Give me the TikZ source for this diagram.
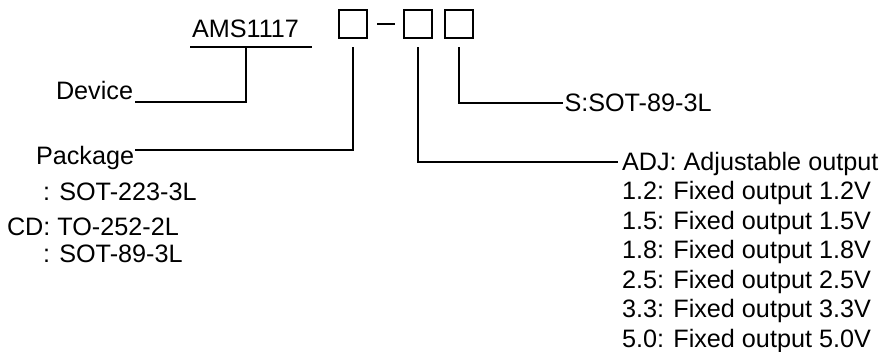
\documentclass[tikz,border=0pt]{standalone}
\usepackage{fontspec}
\setmainfont{Liberation Sans}
\begin{document}
\begin{tikzpicture}[x=1pt,y=-1pt,
  txt/.style={anchor=base west,inner sep=0pt,outer sep=0pt,font=\fontsize{25.2}{30}\selectfont},
  cbox/.style={draw,line width=1.3pt,minimum size=28pt,inner sep=0pt,outer sep=0pt},
  wire/.style={line width=1.3pt}]
\useasboundingbox (0,0) rectangle (883,351);
% header
\node[txt] (ams) at (192,37) {AMS1117};
\node[cbox] (b1) at (353,24) {};
\node[cbox] (b2) at (418,24) {};
\node[cbox] (b3) at (459,24) {};
\draw[wire,shorten <=10pt,shorten >=9pt] (b1.east) -- (b2.west);
% device
\coordinate (ulL) at (190,47);
\coordinate (ulR) at (312,47);
\coordinate (ulM) at (246,47);
\draw[wire] (ulL) -- (ulR);
\node[txt] (dev) at (56,99) {Device};
\coordinate (devE) at (135,102);
\draw[wire] (ulM) |- (devE);
% package
\node[txt] (pkg) at (36,164) {Package};
\coordinate (pkgE) at (135,150);
\coordinate (b1s) at (353,47);
\draw[wire] (b1s) |- (pkgE);
\node[txt] (p1) at (43,200) {: SOT-223-3L};
\node[txt] (p2) at (7,235) {CD: TO-252-2L};
\node[txt] (p3) at (43,262) {: SOT-89-3L};
% voltage
\coordinate (b2s) at (418,47);
\coordinate (adjE) at (618,162);
\draw[wire] (b2s) |- (adjE);
\node[txt] (v0) at (622,170) {ADJ: Adjustable output};
\node[txt] (v1) at (622,199.5) {1.2: Fixed output 1.2V};
\node[txt] (v2) at (622,229) {1.5: Fixed output 1.5V};
\node[txt] (v3) at (622,258.5) {1.8: Fixed output 1.8V};
\node[txt] (v4) at (622,288) {2.5: Fixed output 2.5V};
\node[txt] (v5) at (622,317.5) {3.3: Fixed output 3.3V};
\node[txt] (v6) at (622,347) {5.0: Fixed output 5.0V};
% S option
\coordinate (b3s) at (459,47);
\coordinate (sE) at (563,103);
\draw[wire] (b3s) |- (sE);
\node[txt] (s) at (564.5,111.5) {S:SOT-89-3L};
\end{tikzpicture}
\end{document}
